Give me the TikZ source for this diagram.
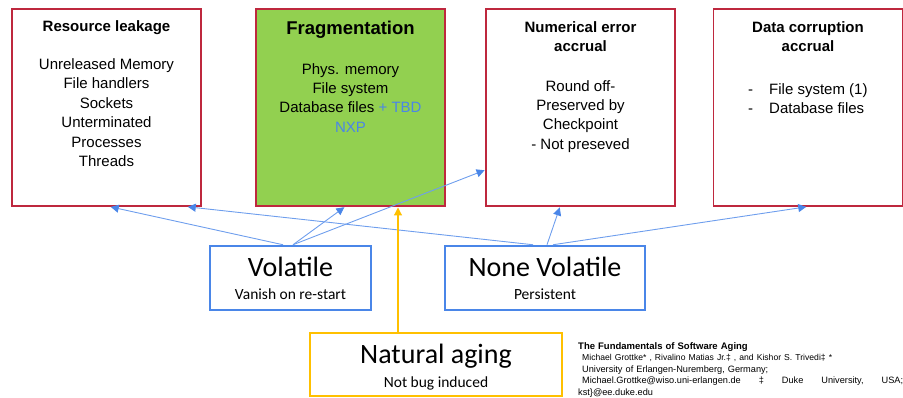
\documentclass[tikz,border=0pt]{standalone}
\usepackage{fontspec}
\setmainfont{Liberation Sans}
\newfontfamily\calibri{Carlito}
\usetikzlibrary{arrows.meta}
\definecolor{boxred}{RGB}{190,40,62}
\definecolor{fraggreen}{RGB}{146,208,80}
\definecolor{flowblue}{RGB}{74,134,232}
\definecolor{agegold}{RGB}{255,192,0}
\tikzset{
  causebox/.style={draw=boxred, line width=1.5pt, minimum width=189pt, minimum height=197pt, inner sep=0pt},
  kindbox/.style={draw=flowblue, line width=2.5pt, minimum height=64pt, inner sep=0pt},
  causetitle/.style={anchor=north, inner sep=0pt, align=center, font=\fontsize{15}{19}\selectfont\bfseries},
  causetext/.style={anchor=north, inner sep=0pt, align=center, font=\fontsize{15}{19.4}\selectfont},
  kindname/.style={anchor=base, inner sep=0pt, font=\calibri\fontsize{28}{30}\selectfont},
  kindnote/.style={anchor=base, inner sep=0pt, font=\calibri\fontsize{15.5}{17}\selectfont},
  flow/.style={draw=flowblue!80, line width=0.9pt, shorten >=0.75pt, -{Triangle[length=8pt,width=8pt,flowblue]}},
}
\begin{document}
\begin{tikzpicture}[x=1pt,y=-1pt]
  \useasboundingbox (0,0) rectangle (903,398);

  % aging causes
  \node[causebox] (leak) at (106.5,107.5) {};
  \node[causetitle] (leaktitle) at (106.5,20) {Resource leakage};
  \node[causetext] (leaktext) at (106.5,58.5) {Unreleased Memory\\File handlers\\Sockets\\Unterminated\\Processes\\Threads};

  \node[causebox, fill=fraggreen] (frag) at (350.5,107.5) {};
  \node[causetitle, font=\fontsize{18.5}{20}\selectfont\bfseries] (fragtitle) at (350.5,21) {Fragmentation};
  \node[causetext] (fragtext) at (350.5,63) {Phys. memory\\File system\\Database files \textcolor{flowblue}{+ TBD}\\\textcolor{flowblue}{NXP}};

  \node[causebox] (num) at (580.5,107.5) {};
  \node[causetitle] (numtitle) at (580.5,21) {Numerical error\\accrual};
  \node[causetext] (numtext) at (580.5,80) {Round off-\\Preserved by\\Checkpoint\\- Not preseved};

  \node[causebox] (data) at (808,107.5) {};
  \node[causetitle] (datatitle) at (808,21) {Data corruption\\accrual};
  \node[causetext, anchor=north west, align=left] (datatext) at (748,83) {\makebox[21pt][l]{-}File system (1)\\\makebox[21pt][l]{-}Database files};

  % kinds of aging
  \node[kindbox, minimum width=161pt] (vol) at (290.5,278) {};
  \node[kindname] (voltitle) at (290.5,277) {Volatile};
  \node[kindnote] (volsub) at (290.5,300) {Vanish on re-start};

  \node[kindbox, minimum width=200pt] (nvol) at (545,278) {};
  \node[kindname] (nvoltitle) at (545,277) {None Volatile};
  \node[kindnote] (nvolsub) at (545,300) {Persistent};

  \node[kindbox, draw=agegold, minimum width=252pt, minimum height=63pt] (nat) at (436,364.5) {};
  \node[kindname] (nattitle) at (436,363) {Natural aging};
  \node[kindnote] (natsub) at (436,387) {Not bug induced};

  % reference
  \node[anchor=north west, inner sep=0pt, text width=325pt, font=\fontsize{9.2}{11.6}\selectfont] (ref) at (578,342) {%
    {\fontsize{9.5}{11.6}\selectfont\bfseries The Fundamentals of Software Aging}\\
    \hspace*{4pt}{\fontsize{8.6}{11.6}\selectfont Michael Grottke* , Rivalino Matias Jr.‡ , and Kishor S. Trivedi‡ *}\\
    \hspace*{4pt}University of Erlangen-Nuremberg, Germany;\\
    \leavevmode\hbox to \linewidth{\hspace*{4pt}Michael.Grottke@wiso.uni-erlangen.de\hfill‡\hfill Duke\hfill University,\hfill USA;}\\
    kst\}@ee.duke.edu};

  % connectors
  \draw[flow] ([xshift=-7.5pt]vol.north) -- ([xshift=3.5pt]leak.south);
  \draw[flow] ([xshift=2.5pt]vol.north) -- ([xshift=-5.5pt]frag.south);
  \draw[flow] ([xshift=2.5pt]vol.north) -- ([yshift=-62.5pt]num.west);
  \draw[flow] ([xshift=-12pt]nvol.north) -- ([xshift=80.5pt]leak.south);
  \draw[flow] ([xshift=2pt]nvol.north) -- ([xshift=-20.5pt]num.south);
  \draw[flow] ([xshift=8pt]nvol.north) -- ([xshift=-1pt]data.south);
  \draw[agegold, line width=1.2pt, shorten >=0.75pt, -{Triangle[length=8pt,width=8pt]}] ([xshift=-38pt]nat.north) -- ([xshift=47.5pt]frag.south);
\end{tikzpicture}
\end{document}
